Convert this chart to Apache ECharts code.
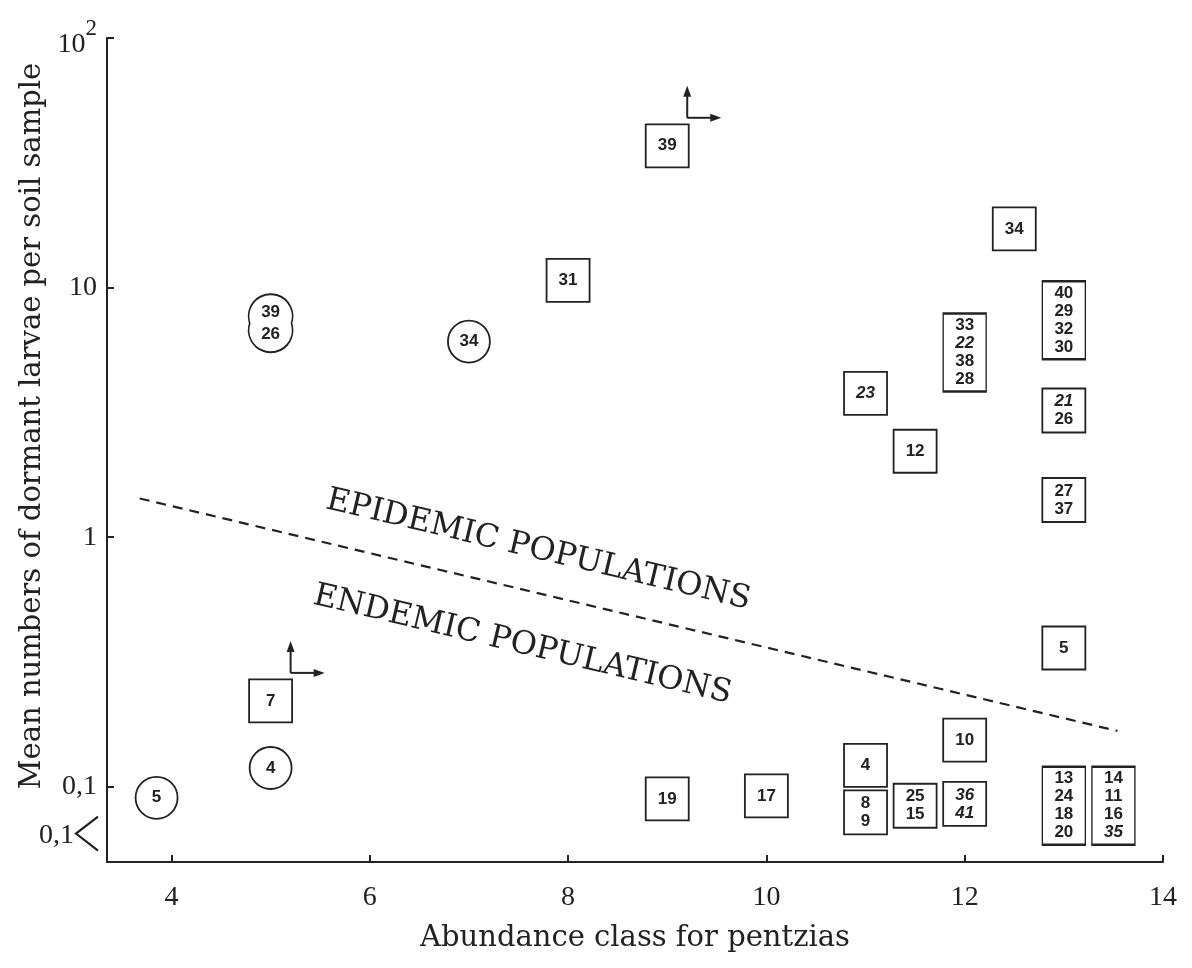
<!DOCTYPE html>
<html>
<head>
<meta charset="utf-8">
<script src="https://cdn.jsdelivr.net/npm/echarts@6/dist/echarts.min.js"></script>
<style>
html,body{margin:0;padding:0;background:#fff;}
#chart{width:1192px;height:968px;}
</style>
</head>
<body>
<div id="chart"></div>
<script>
// ---- data ----
// boxes (squares)
const boxClass  = [9, 8, 12.5, 13, 12, 11, 11.5, 13, 13, 13, 12, 11, 11, 11.5, 12, 13, 13.5, 9, 10, 5];
const boxLarvae = [37, 10.7, 17.2, 7.4, 5.5, 3.77, 2.21, 3.22, 1.41, 0.36, 0.154, 0.122, 0.079, 0.084, 0.0855, 0.084, 0.084, 0.0895, 0.092, 0.221];
const boxIds = [
  ['39'], ['31'], ['34'], ['40','29','32','30'], ['33','22','38','28'], ['23'], ['12'],
  ['21','26'], ['27','37'], ['5'], ['10'], ['4'], ['8','9'], ['25','15'], ['36','41'],
  ['13','24','18','20'], ['14','11','16','35'], ['19'], ['17'], ['7']
];
// circles
const circleClass  = [5, 3.85, 7, 5];
const circleLarvae = [0.119, 0.0904, 6.08, 7.2];
const circleIds = [['4'], ['5'], ['34'], ['39','26']];
// ids printed in italics
const italicIds = ['21','22','23','35','36','41'];
// points marked with "greater than" arrows
const arrowClass  = [9, 5];
const arrowLarvae = [37, 0.221];
// dashed boundary line
const boundaryClass  = [3.68, 13.54];
const boundaryLarvae = [1.43, 0.1675];
// axis ticks
const xTicks = [4, 6, 8, 10, 12, 14];
const yTickLabels = {'-1': '0,1', '0': '1', '1': '10', '2': '{b|10}{s|2}'};
const lessLabel = '0,1';
const lessValue = 0.065;
// annotations
const regionTexts = [
  {text: 'EPIDEMIC POPULATIONS', x: 7.70, y: 0.887},
  {text: 'ENDEMIC POPULATIONS', x: 7.54, y: 0.37}
];

const INK = '#222';
const italicSet = new Set(italicIds);
function idLabel(ids) {
  return ids.map(id => (italicSet.has(id) ? '{i|' + id + '}' : '{n|' + id + '}')).join('\n');
}
function boxSize(n) {
  return n === 1 ? [43, 43] : (n === 2 ? [43, 44] : [43, 78]);
}
const numRich = {
  n: {fontFamily: 'Liberation Sans', fontWeight: 'bold', fontSize: 17, lineHeight: 18, color: INK},
  i: {fontFamily: 'Liberation Sans', fontWeight: 'bold', fontStyle: 'italic', fontSize: 17, lineHeight: 18, color: INK}
};
const doubleCircle = 'path://M20.86 0 A22 22 0 1 0 -20.86 0 A22 22 0 1 0 20.86 0 Z';

const chart = echarts.init(document.getElementById('chart'), null, {renderer: 'canvas'});

const option = {
  backgroundColor: '#fff',
  animation: false,
  grid: {left: 107, right: 29, top: 38, bottom: 106, containLabel: false},
  xAxis: {
    type: 'value', min: 3.35, max: 14,
    name: 'Abundance class for pentzias',
    nameLocation: 'middle', nameGap: 62,
    nameTextStyle: {fontFamily: 'DejaVu Serif', fontSize: 29, color: INK},
    axisLine: {lineStyle: {color: INK, width: 2}},
    axisTick: {inside: true, length: 7, lineStyle: {color: INK, width: 2}, customValues: xTicks},
    axisLabel: {customValues: xTicks, margin: 22, fontFamily: 'Liberation Serif', fontSize: 28, color: INK},
    splitLine: {show: false}
  },
  yAxis: {
    type: 'log', logBase: 10, min: 0.05, max: 100,
    name: 'Mean numbers of dormant larvae per soil sample',
    nameLocation: 'middle', nameGap: 57,
    nameTextStyle: {fontFamily: 'DejaVu Serif', fontSize: 29, color: INK, padding: [0, 0, 0, 48]},
    axisLine: {show: true, lineStyle: {color: INK, width: 2}},
    axisTick: {show: true, inside: true, length: 7, lineStyle: {color: INK, width: 2}},
    axisLabel: {
      margin: 10, fontFamily: 'Liberation Serif', fontSize: 28, color: INK,
      formatter: function (v) {
        const e = Math.log10(v);
        const r = Math.round(e);
        if (Math.abs(e - r) > 1e-6) return '';
        return yTickLabels[String(r)] || '';
      },
      rich: {
        b: {fontFamily: 'Liberation Serif', fontSize: 28, color: INK, padding: [14, 0, 0, 0]},
        s: {fontFamily: 'Liberation Serif', fontSize: 23, color: INK, verticalAlign: 'top'}
      }
    },
    splitLine: {show: false}
  },
  series: [
    {
      name: 'boundary', type: 'line', silent: true, symbol: 'none',
      data: boundaryClass.map((x, i) => [x, boundaryLarvae[i]]),
      lineStyle: {color: INK, width: 2.2, type: [10, 7]},
      z: 1
    },
    {
      name: 'boxes', type: 'scatter', silent: true,
      data: boxClass.map((x, i) => [x, boxLarvae[i]]),
      symbol: 'rect',
      symbolSize: (v, p) => boxSize(boxIds[p.dataIndex].length),
      itemStyle: {color: '#fff', borderColor: INK, borderWidth: 1.8, opacity: 1},
      label: {
        show: true, position: 'inside',
        formatter: p => idLabel(boxIds[p.dataIndex]),
        rich: numRich
      },
      z: 3
    },
    {
      name: 'circles', type: 'scatter', silent: true,
      data: circleClass.map((x, i) => [x, circleLarvae[i]]),
      symbol: (v, p) => (circleIds[p.dataIndex].length > 1 ? doubleCircle : 'circle'),
      symbolSize: (v, p) => (circleIds[p.dataIndex].length > 1 ? [44, 58] : 42),
      itemStyle: {color: '#fff', borderColor: INK, borderWidth: 1.8, opacity: 1},
      label: {
        show: true, position: 'inside',
        formatter: p => idLabel(circleIds[p.dataIndex]),
        rich: {
          n: {fontFamily: 'Liberation Sans', fontWeight: 'bold', fontSize: 17, lineHeight: 22, color: INK},
          i: numRich.i
        }
      },
      z: 3
    },
    {
      name: 'arrows', type: 'custom', silent: true,
      data: arrowClass.map((x, i) => [x, arrowLarvae[i]]),
      renderItem: function (params, api) {
        const p = api.coord([api.value(0), api.value(1)]);
        const ox = p[0] + 20, oy = p[1] - 28;
        const st = {stroke: INK, lineWidth: 2};
        return {
          type: 'group',
          children: [
            {type: 'line', shape: {x1: ox, y1: oy, x2: ox, y2: oy - 26}, style: st},
            {type: 'polygon', shape: {points: [[ox, oy - 32], [ox - 4, oy - 21], [ox + 4, oy - 21]]}, style: {fill: INK}},
            {type: 'line', shape: {x1: ox, y1: oy, x2: ox + 28, y2: oy}, style: st},
            {type: 'polygon', shape: {points: [[ox + 34, oy], [ox + 23, oy - 4], [ox + 23, oy + 4]]}, style: {fill: INK}}
          ]
        };
      },
      z: 4
    }
  ]
};
chart.setOption(option);

// annotations anchored in data coordinates
const angle = -13.4 * Math.PI / 180;
const graphics = regionTexts.map(t => {
  const p = chart.convertToPixel({gridIndex: 0}, [t.x, t.y]);
  return {
    type: 'text', x: p[0], y: p[1], rotation: angle, silent: true,
    style: {text: t.text, fontFamily: 'DejaVu Serif', fontSize: 32, fill: INK, align: 'center', verticalAlign: 'middle'}
  };
});
const lp = chart.convertToPixel({gridIndex: 0}, [3.35, lessValue]);
graphics.push({
  type: 'text', x: lp[0] - 33, y: lp[1] + 2, silent: true,
  style: {text: lessLabel, fontFamily: 'Liberation Serif', fontSize: 28, fill: INK, align: 'right', verticalAlign: 'middle'}
});
graphics.push({
  type: 'polyline', silent: true,
  shape: {points: [[lp[0] - 9, lp[1] - 17], [lp[0] - 31, lp[1]], [lp[0] - 9, lp[1] + 17]]},
  style: {stroke: INK, lineWidth: 2.2, fill: null}
});
chart.setOption({graphic: graphics});
</script>
</body>
</html>
